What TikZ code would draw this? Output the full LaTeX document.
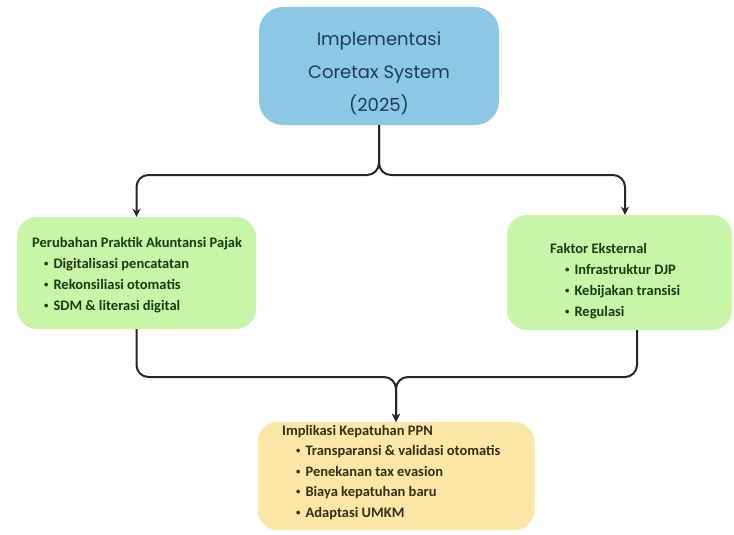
\documentclass[tikz,border=0pt]{standalone}
\usepackage{fontspec}
\setmainfont{Carlito}
\newfontfamily\titlefont{Poppins}
\usetikzlibrary{arrows.meta}
\definecolor{topblue}{HTML}{8DC7E6}
\definecolor{boxgreen}{HTML}{C8F5A8}
\definecolor{boxyellow}{HTML}{FCE7A6}
\definecolor{titletext}{HTML}{1F3A58}
\definecolor{greentext}{HTML}{1E3A12}
\definecolor{yellowtext}{HTML}{33301A}
\definecolor{linecol}{HTML}{262626}
\newcommand{\blt}[1]{\hspace{#1}\raisebox{2pt}{\scalebox{0.6}{\textbullet}}\hspace{5pt}}
\begin{document}
\begin{tikzpicture}[x=1pt,y=-1pt,
  box/.style={rounded corners=20pt, draw=none, inner sep=0pt},
  listtext/.style={anchor=base west, align=left, inner sep=0pt, font=\bfseries\fontsize{14.5}{21}\selectfont},
  conn/.style={draw=linecol, line width=2pt, rounded corners=12pt, -{Stealth[length=8pt,width=8pt]}}
]
\useasboundingbox (0,0) rectangle (734,535);
% boxes
\node[box, rounded corners=24pt, fill=topblue, minimum width=240pt, minimum height=118pt] (top) at (379,66) {};
\node[text=titletext, font=\titlefont\fontsize{18}{33}\selectfont, align=center, inner sep=0pt, anchor=base] (toptitle) at (379,111) {Implementasi\\Coretax System\\(2025)};
\node[box, fill=boxgreen, minimum width=239pt, minimum height=112pt] (left) at (136.5,273) {};
\node[box, fill=boxgreen, minimum width=225pt, minimum height=115pt] (right) at (619.5,272.5) {};
\node[box, fill=boxyellow, minimum width=277pt, minimum height=108pt] (bottom) at (396,476) {};
% texts
\node[listtext, text=greentext] (lefttext) at (32,310)
  {Perubahan Praktik Akuntansi Pajak\\
   \blt{12pt}Digitalisasi pencatatan\\
   \blt{12pt}Rekonsiliasi otomatis\\
   \blt{12pt}SDM \& literasi digital};
\node[listtext, text=greentext] (righttext) at (550,316)
  {Faktor Eksternal\\
   \blt{15pt}Infrastruktur DJP\\
   \blt{15pt}Kebijakan transisi\\
   \blt{15pt}Regulasi};
\node[listtext, text=yellowtext, font=\bfseries\fontsize{14.5}{20.5}\selectfont] (bottomtext) at (282,517)
  {Implikasi Kepatuhan PPN\\
   \blt{14pt}Transparansi \& validasi otomatis\\
   \blt{14pt}Penekanan tax evasion\\
   \blt{14pt}Biaya kepatuhan baru\\
   \blt{14pt}Adaptasi UMKM};
% connectors
\coordinate (split) at (379,175);
\coordinate (join) at (396,377);
\draw[conn] (top.south) -- (split) -| (left.north);
\draw[conn] (top.south) -- (split) -| ([xshift=5.5pt]right.north);
\draw[conn] (left.south) |- (join) -- (bottom.north);
\draw[conn] ([xshift=17.5pt]right.south) |- (join) -- (bottom.north);
\end{tikzpicture}
\end{document}
